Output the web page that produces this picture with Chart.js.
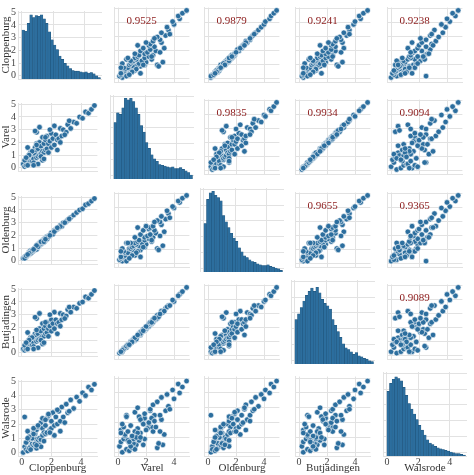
<!DOCTYPE html>
<html>
<head>
<meta charset="utf-8">
<script src="https://cdn.jsdelivr.net/npm/chart.js@4.4.1/dist/chart.umd.min.js"></script>
<style>
  body { margin: 0; background: #fff; }
  #wrap { position: relative; width: 474px; height: 475px; }
  .cell { position: absolute; }
</style>
</head>
<body>
<div id="wrap"></div>
<script>
const stations = ['Cloppenburg', 'Varel', 'Oldenburg', 'Butjadingen', 'Walsrode'];

// sample values per station (same days across stations)
const cloppenburg = [
  0.1,0.2,0.3,0.3,0.4,0.5,0.5,0.6,0.6,0.7, 0.7,0.8,0.8,0.9,0.9,1.0,1.0,1.0,1.1,1.1,
  1.2,1.2,1.3,1.3,1.4,1.4,1.5,1.5,1.6,1.6, 1.7,1.7,1.8,1.9,2.0,2.0,2.1,2.2,2.3,2.4,
  2.5,2.6,2.7,2.8,3.0,3.1,3.3,3.5,3.7,3.9, 4.1,4.3,4.5,4.7,4.9,0.2,0.4,0.6,0.8,1.0,
  1.2,1.4,0.9,1.1,0.7,1.3,1.8,2.2,0.5,1.5, 2.6,3.2,0.3,1.6,2.9,0.4,1.0,2.4,1.9,0.8];
const varel = [
  0.3,0.1,0.6,0.2,0.8,0.4,1.0,0.5,1.2,0.9, 0.5,1.3,0.7,1.1,1.6,0.8,1.4,1.9,0.9,1.5,
  1.0,2.0,1.1,1.7,1.3,2.4,1.2,1.9,1.4,2.2, 1.5,2.5,1.9,2.1,1.6,2.7,2.3,1.8,2.6,2.2,
  2.3,3.1,2.5,3.0,2.8,3.4,3.1,3.6,3.5,4.0, 3.9,4.4,4.3,4.6,4.9,0.6,0.2,1.2,0.4,2.8,
  3.2,0.6,2.9,0.3,1.3,0.9,1.2,3.3,1.0,0.7, 2.0,3.7,0.8,2.4,2.6,1.6,1.8,1.4,3.0,0.2];
const oldenburg = [
  0.2,0.3,0.3,0.4,0.5,0.5,0.7,0.6,0.8,0.7, 0.8,0.9,0.8,1.0,1.0,1.1,0.9,1.2,1.1,1.3,
  1.2,1.4,1.3,1.5,1.4,1.6,1.5,1.7,1.6,1.8, 1.7,1.9,1.9,2.0,2.1,2.2,2.1,2.4,2.4,2.5,
  2.6,2.8,2.7,3.0,3.1,3.2,3.4,3.6,3.8,4.0, 4.1,4.4,4.5,4.7,4.9,0.2,0.5,0.6,0.9,1.1,
  1.3,1.5,1.0,1.1,0.8,1.5,1.9,2.3,0.6,1.5, 2.7,3.3,0.4,1.7,3.0,0.5,1.2,2.6,2.0,0.9];
const butjadingen = [
  0.3,0.2,0.6,0.3,0.8,0.5,1.0,0.6,1.1,0.9, 0.6,1.3,0.8,1.1,1.5,0.9,1.4,1.8,1.0,1.5,
  1.1,1.9,1.2,1.7,1.3,2.3,1.3,1.9,1.5,2.1, 1.6,2.4,1.9,2.1,1.7,2.6,2.3,1.9,2.6,2.3,
  2.4,3.1,2.6,3.0,2.9,3.4,3.2,3.6,3.5,3.9, 4.0,4.4,4.3,4.6,4.9,0.6,0.3,1.2,0.5,2.7,
  3.1,0.7,2.8,0.4,1.2,1.0,1.3,3.2,1.0,0.8, 2.1,3.6,0.8,2.4,2.7,1.6,1.8,1.5,3.0,0.3];
const walsrode = [
  0.0,0.4,0.2,0.7,0.1,0.9,0.3,1.1,0.4,0.6, 1.2,0.5,1.4,0.6,1.3,0.7,1.6,0.9,1.8,0.8,
  1.0,1.9,0.9,2.1,1.2,1.7,1.4,2.3,1.3,1.9, 2.4,1.4,2.6,1.6,2.2,1.7,2.8,1.9,2.5,2.0,
  2.9,2.2,3.2,2.5,3.4,2.8,3.7,3.1,3.9,3.6, 4.2,4.0,4.6,4.4,4.8,2.5,1.5,0.2,1.7,0.3,
  0.5,2.4,0.6,1.9,1.0,0.4,2.7,1.2,1.1,0.8, 1.5,2.9,0.7,2.3,2.1,1.0,0.5,3.0,1.4,1.3];
const values = [cloppenburg, varel, oldenburg, butjadingen, walsrode];

// histogram bin heights (30 bins from 0 to 5)
const histCloppenburg = [75,73,85,98,94,97,96,98,92,85,72,60,52,45,35,30,24,20,16,13,12,12,11,10,11,9,10,8,5,2];
const histVarel = [70,82,80,88,100,98,100,96,88,80,66,58,45,38,30,25,22,18,17,16,15,14,15,13,13,14,12,10,8,5];
const histOldenburg = [60,90,98,100,95,92,88,70,62,55,48,42,38,30,25,20,18,15,13,12,10,9,8,8,9,7,6,5,4,2];
const histButjadingen = [55,62,70,78,85,90,94,90,95,88,80,75,72,68,55,48,40,33,25,20,18,15,12,14,10,9,7,6,4,3];
const histWalsrode = [80,90,95,98,96,93,85,75,65,58,52,45,38,32,26,20,16,14,12,10,9,8,7,6,5,4,3,3,2,1];
const hists = [histCloppenburg, histVarel, histOldenburg, histButjadingen, histWalsrode];

const xTicks = [0, 2, 4];
const yTicks = [0, 1, 2, 3, 4, 5];

// correlations for the upper triangle [row][col]
const correlations = [
  [null, '0.9525', '0.9879', '0.9241', '0.9238'],
  [null, null, '0.9835', '0.9934', '0.9094'],
  [null, null, null, '0.9655', '0.9365'],
  [null, null, null, null, '0.9089']];

const colLeft = [18, 110, 200, 291, 383];
const rowTop = [3, 95, 188, 280, 372];
const plotW = 84, plotH = 84;
const leftPad = 18, bottomPad = 19;
const axisMin = -0.25, axisMax = 5.1;
const blue = '#2c6e9e';
const font = "'Liberation Serif', 'DejaVu Serif', serif";

const corrText = {
  id: 'corrText',
  afterDatasetsDraw(chart, args, opts) {
    if (!opts.text) return;
    const {ctx, chartArea} = chart;
    ctx.save();
    ctx.fillStyle = '#8b1a1a';
    ctx.font = "11px " + font;
    ctx.textBaseline = 'top';
    ctx.fillText(opts.text, chartArea.left + 12, chartArea.top + 8);
    ctx.restore();
  }
};

const wrap = document.getElementById('wrap');
for (let r = 0; r < 5; r++) {
  for (let c = 0; c < 5; c++) {
    const first = c === 0, last = r === 4;
    const div = document.createElement('div');
    div.className = 'cell';
    const w = plotW + (first ? leftPad : 0);
    const h = plotH + (last ? bottomPad : 0);
    div.style.left = (colLeft[c] - (first ? leftPad : 0)) + 'px';
    div.style.top = rowTop[r] + 'px';
    div.style.width = w + 'px';
    div.style.height = h + 'px';
    const cv = document.createElement('canvas');
    div.appendChild(cv);
    wrap.appendChild(div);

    let datasets;
    if (r === c) {
      const binW = 5 / hists[c].length;
      datasets = [{
        type: 'bar', yAxisID: 'yh',
        data: hists[c].map((v, i) => ({x: (i + 0.5) * binW, y: v})),
        backgroundColor: blue, borderColor: '#1d4f74', borderWidth: 0.4,
        barThickness: plotW / (axisMax - axisMin) * binW
      }];
    } else {
      datasets = [{
        type: 'scatter',
        data: values[c].map((v, i) => ({x: v, y: values[r][i]})),
        backgroundColor: blue, borderColor: '#ffffff', borderWidth: 0.6,
        pointRadius: 2.8
      }];
    }
    const tickFont = {family: font, size: 10};
    new Chart(cv, {
      data: {datasets},
      options: {
        responsive: true, maintainAspectRatio: false, animation: false,
        layout: {padding: 0},
        plugins: {legend: {display: false}, tooltip: {enabled: false},
                  corrText: {text: r < c ? correlations[r][c] : null}},
        scales: {
          x: {
            type: 'linear', min: axisMin, max: axisMax, offset: false,
            grid: {color: '#e2e2e2', drawTicks: false, offset: false},
            border: {color: '#e2e2e2'},
            afterBuildTicks: s => { s.ticks = xTicks.map(v => ({value: v})); },
            ticks: {display: last, autoSkip: false, font: tickFont, color: '#444', padding: 0},
            title: {display: last, text: stations[c], font: {family: font, size: 11}, color: '#333', padding: 0},
            afterFit: s => { s.height = last ? bottomPad : 0; }
          },
          y: {
            type: 'linear', min: axisMin, max: axisMax,
            grid: {color: '#e2e2e2', drawTicks: false},
            border: {color: '#e2e2e2'},
            afterBuildTicks: s => { s.ticks = yTicks.map(v => ({value: v})); },
            ticks: {display: first, autoSkip: false, font: tickFont, color: '#444', padding: 2},
            title: {display: first, text: stations[r], font: {family: font, size: 11}, color: '#333', padding: 0},
            afterFit: s => { s.width = first ? leftPad : 0; }
          },
          yh: {type: 'linear', display: false, min: 0, max: 104}
        }
      },
      plugins: [corrText]
    });
  }
}
</script>
</body>
</html>
